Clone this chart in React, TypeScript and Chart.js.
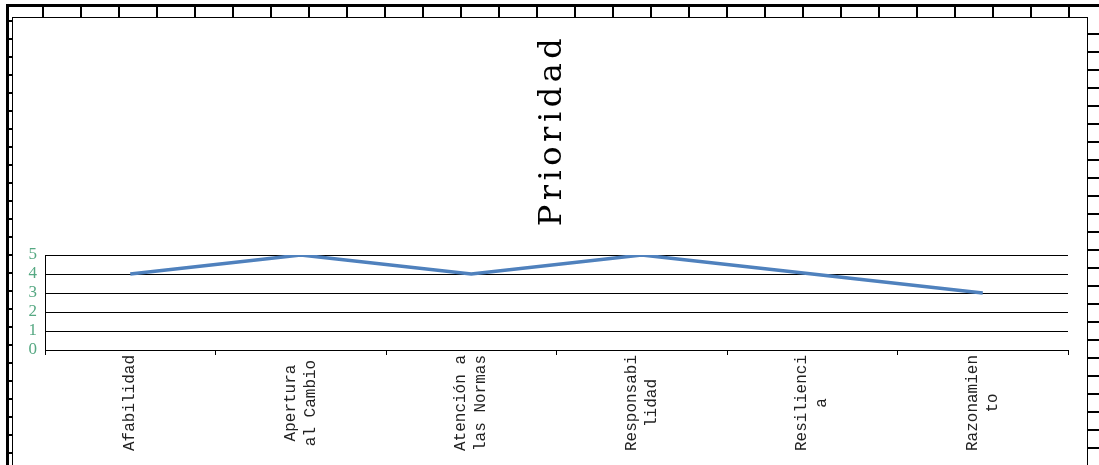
import React, { useEffect, useRef } from "react";
import { Chart, registerables } from "chart.js";

Chart.register(...registerables);

const categories: string[][] = [
  ["Afabilidad"],
  ["Apertura", "al Cambio"],
  ["Atención a", "las Normas"],
  ["Responsabi", "lidad"],
  ["Resilienci", "a"],
  ["Razonamien", "to"],
];
const prioridad: number[] = [4, 5, 4, 5, 4, 3];
const yMin = 0;
const yMax = 5;
const yStep = 1;
const chartTitle = "Prioridad";

const titlePlugin = {
  id: "rotTitle",
  afterDraw(chart: any) {
    const ctx = chart.ctx;
    ctx.save();
    ctx.translate(553, 130);
    ctx.rotate(-Math.PI / 2);
    ctx.font = "32px 'DejaVu Serif'";
    (ctx as any).letterSpacing = "4.5px";
    ctx.fillStyle = "#000";
    ctx.textAlign = "center";
    ctx.textBaseline = "middle";
    ctx.fillText(chartTitle, 0, 0);
    ctx.restore();
  },
};

const xLabelPlugin = {
  id: "xLabels",
  afterDraw(chart: any) {
    const ctx = chart.ctx;
    const xs = chart.scales.x;
    const labels = chart.data.labels as string[][];
    const centerY = xs.bottom + 48;
    ctx.save();
    ctx.font = "16px 'Liberation Mono'";
    ctx.fillStyle = "#222";
    ctx.textAlign = "center";
    ctx.textBaseline = "middle";
    labels.forEach((lines, i) => {
      const x = xs.getPixelForTick(i);
      ctx.save();
      ctx.translate(x, centerY);
      ctx.rotate(-Math.PI / 2);
      lines.forEach((line, j) => {
        ctx.fillText(line, 0, (j - (lines.length - 1) / 2) * 20);
      });
      ctx.restore();
    });
    ctx.restore();
  },
};

export default function App() {
  const ref = useRef<HTMLCanvasElement | null>(null);
  useEffect(() => {
    if (!ref.current) return;
    const chart = new Chart(ref.current, {
      type: "line",
      data: {
        labels: categories,
        datasets: [
          {
            label: chartTitle,
            data: prioridad,
            borderColor: "#4F81BD",
            borderWidth: 3.5,
            pointRadius: 0,
            tension: 0,
            fill: false,
          },
        ],
      },
      options: {
        animation: false,
        responsive: true,
        maintainAspectRatio: false,
        layout: { padding: { top: 255, right: 31, bottom: 110, left: 0 } },
        plugins: {
          legend: { display: false },
          title: { display: false },
          tooltip: { enabled: false },
        },
        scales: {
          x: {
            offset: true,
            grid: {
              offset: true,
              drawOnChartArea: false,
              drawTicks: true,
              tickLength: 5,
              color: "#000",
            },
            border: { display: true, color: "#000", width: 1 },
            ticks: { display: false },
          },
          y: {
            min: yMin,
            max: yMax,
            afterFit(scale: any) {
              scale.width = 45;
            },
            grid: { color: "#000", lineWidth: 1, drawTicks: false },
            border: { display: true, color: "#000", width: 1 },
            ticks: {
              stepSize: yStep,
              autoSkip: false,
              padding: 8,
              color: "#55a882",
              font: { family: "'Liberation Serif'", size: 17 },
            },
          },
        },
      },
      plugins: [titlePlugin, xLabelPlugin],
    });
    return () => chart.destroy();
  }, []);

  const cellStrip: React.CSSProperties = {
    position: "absolute",
    left: 6,
    top: 4,
    width: 1093,
    height: 13,
    borderTop: "3px solid #000",
    boxSizing: "border-box",
    backgroundImage:
      "repeating-linear-gradient(to right, transparent 0px, transparent 36px, #000 36px, #000 38px)",
  };
  const leftStrip: React.CSSProperties = {
    position: "absolute",
    left: 6,
    top: 4,
    width: 6,
    height: 461,
    borderLeft: "3px solid #000",
    boxSizing: "border-box",
    backgroundImage:
      "repeating-linear-gradient(to bottom, transparent 0px, transparent 16px, #000 16px, #000 18px)",
  };
  const rightStrip: React.CSSProperties = {
    position: "absolute",
    left: 1088,
    top: 17,
    width: 11,
    height: 448,
    boxSizing: "border-box",
    backgroundImage:
      "repeating-linear-gradient(to bottom, transparent 0px, transparent 16px, #000 16px, #000 18px)",
  };

  return (
    <div style={{ position: "absolute", left: 0, top: 0, width: 1099, height: 465, background: "#fff", overflow: "hidden" }}>
      <div style={cellStrip} />
      <div style={leftStrip} />
      <div style={rightStrip} />
      <div
        style={{
          position: "absolute",
          left: 12,
          top: 17,
          width: 1076,
          height: 448,
          borderTop: "1px solid #000",
          borderLeft: "1px solid #000",
          borderRight: "1px solid #000",
          boxSizing: "border-box",
          background: "#fff",
        }}
      />
      <div style={{ position: "absolute", left: 0, top: 0, width: 1099, height: 465 }}>
        <canvas ref={ref} />
      </div>
    </div>
  );
}
